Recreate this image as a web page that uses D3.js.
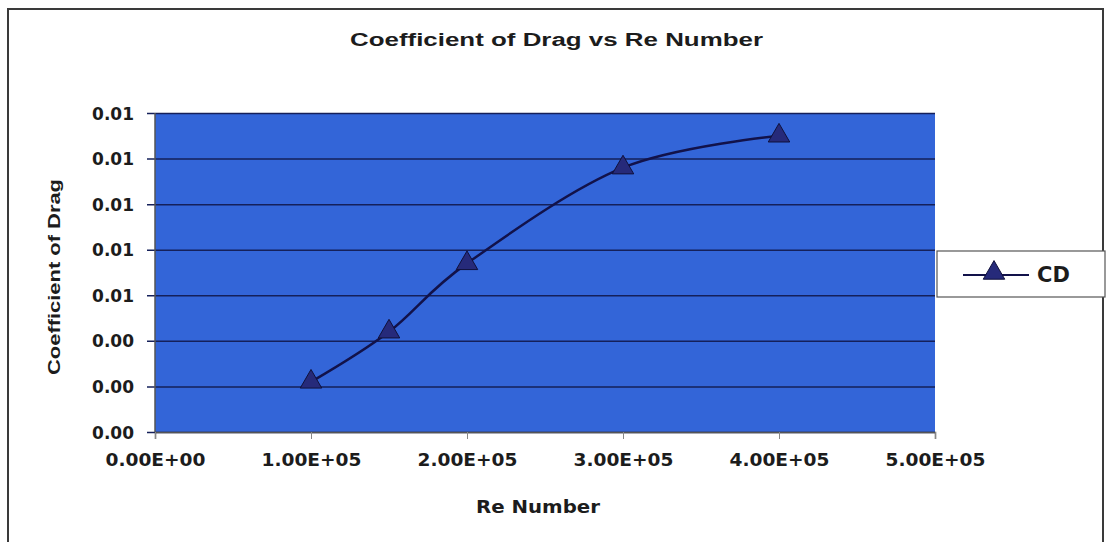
<!DOCTYPE html>
<html>
<head>
<meta charset="utf-8">
<script src="https://cdn.jsdelivr.net/npm/d3@7"></script>
<style>
  body { margin:0; background:#fff; }
  svg text { font-family:"DejaVu Sans", "Liberation Sans", Arial, sans-serif; font-weight:bold; fill:#1c1c1c; }
</style>
</head>
<body>
<svg width="1107" height="542"></svg>
<script>
// data
const reNumbers = [100000, 150000, 200000, 300000, 400000];
const cdValues  = [0.0022, 0.0044, 0.0074, 0.0116, 0.0130];
const xTickValues = [0, 100000, 200000, 300000, 400000, 500000];
const yTickValues = [0, 0.002, 0.004, 0.006, 0.008, 0.010, 0.012, 0.014];
const seriesName = 'CD';

const svg = d3.select('svg');
const width = +svg.attr('width');
const height = +svg.attr('height');

const margin = { top:113, right:172, bottom:110, left:155 };
const innerWidth = width - margin.left - margin.right;
const innerHeight = height - margin.top - margin.bottom;

// outer chart border
svg.append('rect')
    .attr('x', 8).attr('y', 9)
    .attr('width', 1095).attr('height', 560)
    .attr('fill', 'none')
    .attr('stroke', '#3a3a3a')
    .attr('stroke-width', 2);

svg.append('text')
    .text('Coefficient of Drag vs Re Number')
    .attr('x', 350).attr('y', 46)
    .attr('textLength', 413)
    .attr('lengthAdjust', 'spacingAndGlyphs')
    .style('font-family', '"Liberation Sans", Arial, sans-serif')
    .style('font-size', '18px');

const xscale = d3.scaleLinear().domain([0, 500000]).range([0, innerWidth]);
const yscale = d3.scaleLinear().domain([0, 0.014]).range([innerHeight, 0]);

const g = svg.append('g')
    .attr('transform', `translate(${margin.left},${margin.top})`);

g.append('rect')
    .attr('width', innerWidth).attr('height', innerHeight)
    .attr('fill', '#3365d8');

const expFormat = v => {
    const s = d3.format('.2e')(v).toUpperCase();
    return s.replace(/E([+-])(\d)$/, 'E$10$2');
};

const yAxis = d3.axisLeft(yscale)
    .tickValues(yTickValues)
    .tickFormat(d3.format('.2f'))
    .tickSize(-innerWidth)
    .tickPadding(21);

const YAxisG = g.append('g').call(yAxis);
YAxisG.selectAll('.domain').remove();
YAxisG.selectAll('.tick line')
    .attr('x1', -8)
    .attr('stroke', '#15205a')
    .attr('stroke-width', 1.5);
YAxisG.selectAll('.tick text').style('font-size', '17px').attr('dy', '0.36em');

const xAxis = d3.axisBottom(xscale)
    .tickValues(xTickValues)
    .tickFormat(expFormat)
    .tickSize(7)
    .tickPadding(15);

const XAxisG = g.append('g').call(xAxis)
    .attr('transform', `translate(0,${innerHeight})`);
XAxisG.selectAll('.domain').attr('stroke', '#555').attr('stroke-width', 1.5);
XAxisG.selectAll('.tick line').attr('stroke', '#888');
XAxisG.selectAll('.tick text')
    .style('font-size', '17px')
    .attr('textLength', 100)
    .attr('lengthAdjust', 'spacingAndGlyphs');

g.append('line')
    .attr('y1', 0).attr('y2', innerHeight)
    .attr('stroke', '#555').attr('stroke-width', 1.5);

g.append('text')
    .text('Re Number')
    .attr('x', 476 - margin.left)
    .attr('y', innerHeight + 81)
    .attr('textLength', 124)
    .attr('lengthAdjust', 'spacingAndGlyphs')
    .style('font-size', '17px');

g.append('text')
    .text('Coefficient of Drag')
    .attr('transform', 'rotate(-90)')
    .attr('x', -164)
    .attr('y', -95)
    .attr('text-anchor', 'middle')
    .attr('textLength', 196)
    .attr('lengthAdjust', 'spacingAndGlyphs')
    .style('font-family', '"Liberation Sans", Arial, sans-serif')
    .style('font-size', '17px');

const data = reNumbers.map((re, i) => ({ re: re, cd: cdValues[i] }));

const line = d3.line()
    .x(d => xscale(d.re))
    .y(d => yscale(d.cd))
    .curve(d3.curveCatmullRom.alpha(0));

g.append('path')
    .datum(data)
    .attr('d', line)
    .attr('fill', 'none')
    .attr('stroke', '#12124a')
    .attr('stroke-width', 2.5);

const triangle = d3.symbol().type(d3.symbolTriangle).size(200);

g.selectAll('.marker').data(data)
    .enter().append('path')
        .attr('class', 'marker')
        .attr('d', triangle)
        .attr('transform', d => `translate(${xscale(d.re)},${yscale(d.cd)})`)
        .attr('fill', '#262a7a')
        .attr('stroke', '#10103a')
        .attr('stroke-width', 1);

// legend
const legend = svg.append('g').attr('transform', 'translate(937,251)');
legend.append('rect')
    .attr('width', 168).attr('height', 46)
    .attr('fill', '#fff')
    .attr('stroke', '#555').attr('stroke-width', 1.2);
legend.append('line')
    .attr('x1', 26).attr('x2', 92)
    .attr('y1', 24).attr('y2', 24)
    .attr('stroke', '#12124a').attr('stroke-width', 2);
legend.append('path')
    .attr('d', triangle)
    .attr('transform', 'translate(57,22)')
    .attr('fill', '#262a7a')
    .attr('stroke', '#10103a');
legend.append('text')
    .text(seriesName)
    .attr('x', 100).attr('y', 31)
    .style('font-size', '21px');
</script>
</body>
</html>
